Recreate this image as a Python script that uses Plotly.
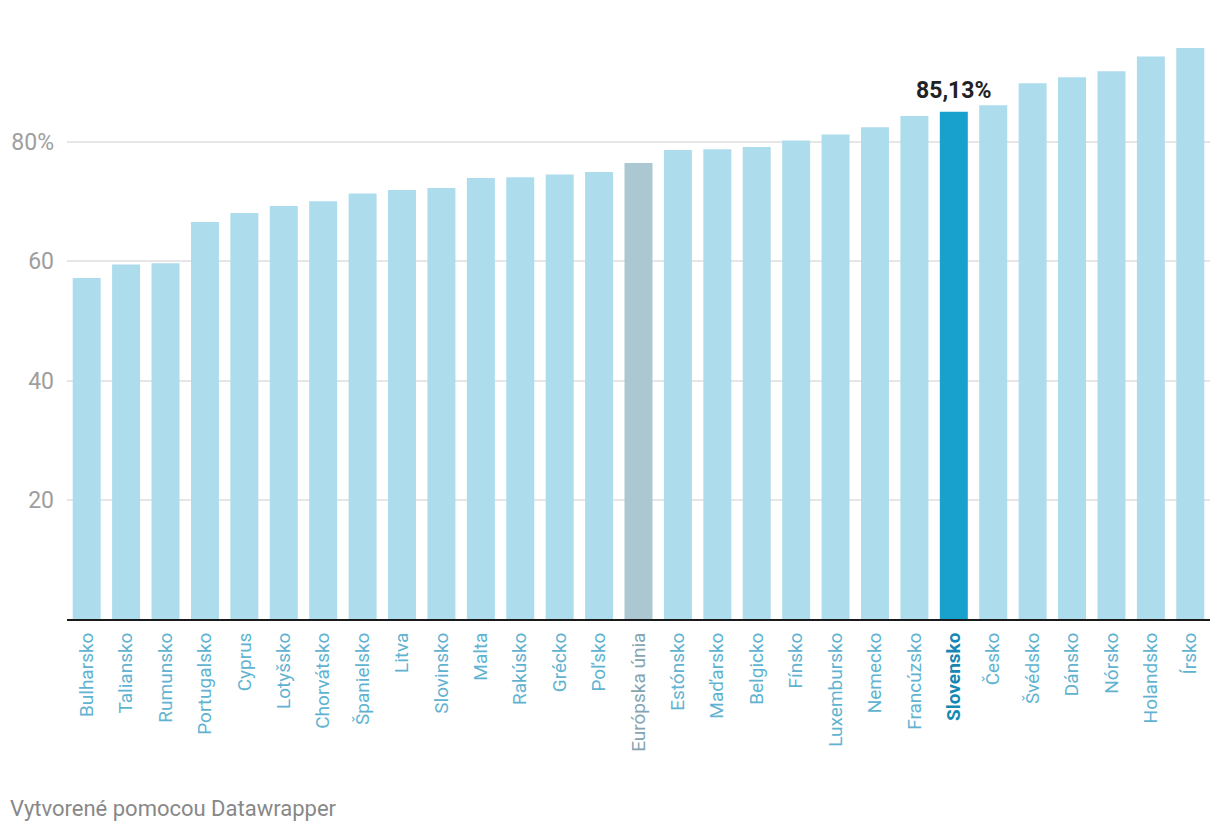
import plotly.graph_objects as go

countries = ["Bulharsko", "Taliansko", "Rumunsko", "Portugalsko", "Cyprus", "Lotyšsko",
             "Chorvátsko", "Španielsko", "Litva", "Slovinsko", "Malta", "Rakúsko", "Grécko",
             "Poľsko", "Európska únia", "Estónsko", "Maďarsko", "Belgicko", "Fínsko",
             "Luxembursko", "Nemecko", "Francúzsko", "Slovensko", "Česko", "Švédsko",
             "Dánsko", "Nórsko", "Holandsko", "Írsko"]
values = [57.2, 59.5, 59.7, 66.6, 68.1, 69.3, 70.1, 71.4, 72.0, 72.3, 74.0, 74.1, 74.6,
          75.0, 76.5, 78.7, 78.8, 79.2, 80.3, 81.3, 82.5, 84.4, 85.13, 86.2, 89.9,
          90.9, 91.9, 94.4, 95.8]
y_ticks = [20, 40, 60, 80]
y_tick_labels = ["20", "40", "60", "80%"]
highlight = "Slovensko"
average = "Európska únia"
highlight_label = "85,13%"

bar_colors = []
tick_text = []
for c in countries:
    if c == highlight:
        bar_colors.append("#18a1cd")
        tick_text.append(f"<b><span style='color:#1487b3'>{c}</span></b>")
    elif c == average:
        bar_colors.append("#abc7d2")
        tick_text.append(f"<span style='color:#84a4b1'>{c}</span>")
    else:
        bar_colors.append("#addcec")
        tick_text.append(f"<span style='color:#5fb3d1'>{c}</span>")

fig = go.Figure(go.Bar(x=countries, y=values, marker_color=bar_colors,
                       marker_line_width=0, hoverinfo="x+y"))

hi = countries.index(highlight)
fig.add_annotation(x=countries[hi], y=values[hi], text=f"<b>{highlight_label}</b>",
                   showarrow=False, yanchor="bottom", yshift=6,
                   font=dict(family="Roboto", size=23, color="#222222"))

W, H = 1212, 824
L, R, T, B = 59, 10, 15, 213
pw, ph = W - L - R, H - T - B
fig.add_annotation(xref="paper", yref="paper", x=(0 - L) / pw, y=-(800 - (H - B)) / ph,
                   xanchor="left", yanchor="middle", showarrow=False,
                   text="Vytvorené pomocou Datawrapper",
                   font=dict(family="Roboto", size=22, color="#888888"))

fig.update_layout(
    width=W, height=H,
    margin=dict(l=L, r=R, t=T, b=B, autoexpand=False),
    paper_bgcolor="white", plot_bgcolor="white",
    bargap=0.29,
    showlegend=False,
    font=dict(family="Roboto"),
    xaxis=dict(tickmode="array", tickvals=countries, ticktext=tick_text,
               tickangle=-90, tickfont=dict(size=19, family="Roboto"),
               showline=True, linecolor="#1a1a1a", linewidth=2, automargin=False,
               ticks="", showgrid=False, fixedrange=True, ticklabelstandoff=4),
    yaxis=dict(range=[0, 100], tickvals=y_ticks, ticktext=y_tick_labels,
               showgrid=True, gridcolor="#e6e6e6", gridwidth=2, automargin=False,
               tickfont=dict(size=23, family="Roboto", color="#9e9e9e"),
               ticks="", ticklabelstandoff=12, zeroline=False, showline=False),
)

fig.write_html("out.html")
